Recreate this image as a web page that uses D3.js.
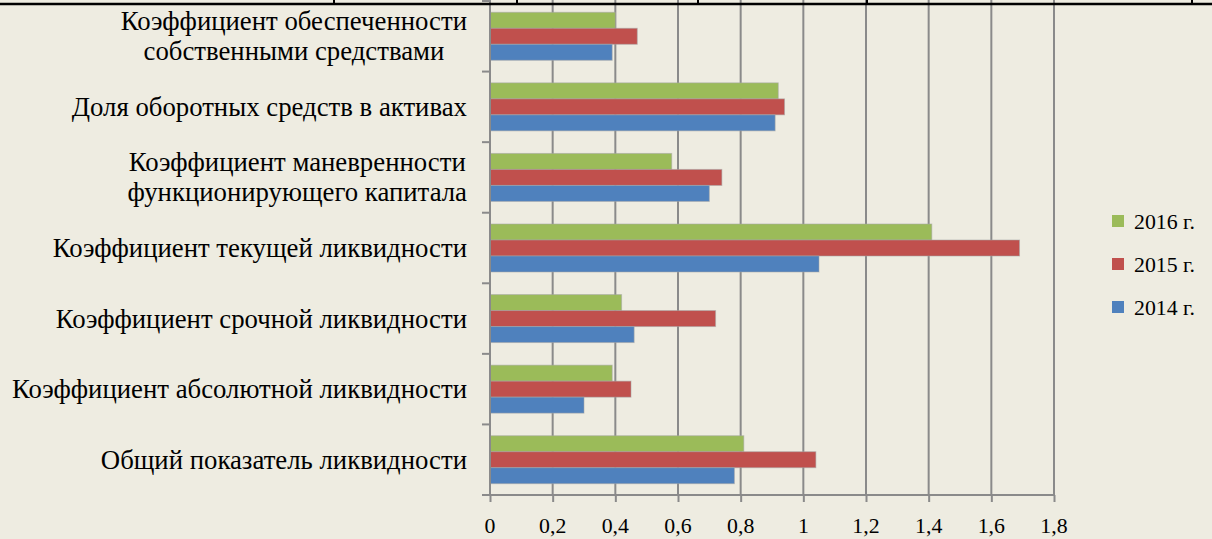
<!DOCTYPE html>
<html>
<head>
<meta charset="utf-8">
<script src="https://cdn.jsdelivr.net/npm/d3@7"></script>
<style>
  html, body { margin: 0; padding: 0; background: #eeece1; }
  svg { display: block; }
</style>
</head>
<body>
<svg id="chart" width="1212" height="539"></svg>
<script>
// Categories, listed top to bottom as they appear on the chart
const categories = [
  ["Коэффициент обеспеченности", "собственными средствами"],
  ["Доля оборотных средств в активах"],
  ["Коэффициент маневренности", "функционирующего капитала"],
  ["Коэффициент текущей ликвидности"],
  ["Коэффициент срочной ликвидности"],
  ["Коэффициент абсолютной ликвидности"],
  ["Общий показатель ликвидности"]
];

// Series, in the order they sit within each group (top to bottom)
const seriesNames = ["2016 г.", "2015 г.", "2014 г."];
const values2016 = [0.40, 0.92, 0.58, 1.41, 0.42, 0.39, 0.81];
const values2015 = [0.47, 0.94, 0.74, 1.69, 0.72, 0.45, 1.04];
const values2014 = [0.39, 0.91, 0.70, 1.05, 0.46, 0.30, 0.78];
const seriesColors = ["#9bbb59", "#c0504d", "#4f81bd"];

const xTicks = [0, 0.2, 0.4, 0.6, 0.8, 1, 1.2, 1.4, 1.6, 1.8];
const xTickLabels = ["0", "0,2", "0,4", "0,6", "0,8", "1", "1,2", "1,4", "1,6", "1,8"];

const seriesValues = [values2016, values2015, values2014];
const catKeys = categories.map(c => c.join(" "));

const svg = d3.select("#chart");
const W = 1212;
const SERIF = '"Liberation Serif"';

const plot = { left: 490, right: 1054, top: 1, bottom: 495 };
const gridColor = "#8a8a8a";
const labelRight = 467;
const labelMaxWidth = 455;   // room for the longest category name

const x = d3.scaleLinear().domain([0, 1.8]).range([plot.left, plot.right]);
const y = d3.scaleBand().domain(catKeys).range([plot.top, plot.bottom])
  .paddingInner(0.32).paddingOuter(0.16);
const ySub = d3.scaleBand().domain(seriesNames).range([0, y.bandwidth()]);

// Plain serif text element placed directly on the svg
function addText(str, size) {
  return svg.append("text")
    .style("font-family", SERIF)
    .attr("font-size", size)
    .attr("fill", "#000")
    .text(str);
}

// Horizontal set width of the face: the longest label fills its room
const probe = addText(categories[5][0], 27);
const STRETCH = labelMaxWidth / probe.node().getComputedTextLength();
probe.remove();

function widen(t) {
  const w = t.node().getComputedTextLength();
  t.attr("textLength", w * STRETCH).attr("lengthAdjust", "spacingAndGlyphs");
  return w * STRETCH;
}

// Gridlines
svg.append("g").selectAll("line")
  .data(xTicks.filter(t => t > 0))
  .join("line")
  .attr("x1", d => x(d)).attr("x2", d => x(d))
  .attr("y1", 0).attr("y2", plot.bottom)
  .attr("stroke", gridColor).attr("stroke-width", 2);

// Bars
const groups = svg.append("g").selectAll("g")
  .data(catKeys)
  .join("g")
  .attr("transform", d => `translate(0,${y(d)})`);

groups.selectAll("rect")
  .data((d, i) => seriesNames.map((s, j) => ({ s, j, v: seriesValues[j][i] })))
  .join("rect")
  .attr("x", x(0))
  .attr("y", d => ySub(d.s))
  .attr("width", d => x(d.v) - x(0))
  .attr("height", ySub.bandwidth())
  .attr("fill", d => seriesColors[d.j])
  .attr("stroke", "#a6a6a6")
  .attr("stroke-opacity", 0.55)
  .attr("stroke-width", 1);

// Value axis (bottom): tick marks from d3.axisBottom, labels set in serif
const xAxis = d3.axisBottom(x)
  .tickValues(xTicks)
  .tickFormat("")
  .tickSize(7)
  .tickSizeOuter(0);
const gx = svg.append("g").attr("transform", `translate(0,${plot.bottom})`).call(xAxis);
gx.select(".domain").remove();
gx.selectAll(".tick text").remove();
gx.selectAll(".tick line").attr("stroke", gridColor).attr("stroke-width", 2);
gx.append("line")
  .attr("x1", plot.left - 8).attr("x2", plot.right)
  .attr("y1", 0).attr("y2", 0)
  .attr("stroke", gridColor).attr("stroke-width", 2);

xTicks.forEach((t, i) => {
  const lbl = addText(xTickLabels[i], 22).attr("y", 533);
  const w = widen(lbl);
  lbl.attr("x", x(t) - w / 2);
});

// Category axis (left)
const boundaries = catKeys.map(k => y(k) - y.step() * y.paddingInner() / 2).concat([plot.bottom]);
svg.append("g").selectAll("line")
  .data(boundaries)
  .join("line")
  .attr("x1", plot.left - 8).attr("x2", plot.left)
  .attr("y1", d => d).attr("y2", d => d)
  .attr("stroke", gridColor).attr("stroke-width", 2);
svg.append("line")
  .attr("x1", plot.left).attr("x2", plot.left)
  .attr("y1", 0).attr("y2", plot.bottom)
  .attr("stroke", gridColor).attr("stroke-width", 2);

// Category labels: multi-line labels are centred within a right-aligned block
const lineH = 30;
categories.forEach((lines, i) => {
  const cy = y(catKeys[i]) + y.bandwidth() / 2;
  const items = lines.map((ln, k) => {
    const t = addText(ln, 27).attr("y", cy + (k - (lines.length - 1) / 2) * lineH + 9);
    return { t, w: widen(t) };
  });
  const maxW = d3.max(items, d => d.w);
  const cx = labelRight - maxW / 2;
  items.forEach(d => d.t.attr("x", cx - d.w / 2));
});

// Legend
seriesNames.forEach((s, i) => {
  const ly = 221 + i * 43;
  svg.append("rect").attr("x", 1112).attr("y", ly - 6).attr("width", 12).attr("height", 12)
    .attr("fill", seriesColors[i]);
  const t = addText(s, 22).attr("x", 1134).attr("y", ly + 7.5);
  widen(t);
});

// Table border running across the top edge
svg.append("line")
  .attr("x1", 0).attr("x2", W).attr("y1", 4).attr("y2", 4)
  .attr("stroke", "#000").attr("stroke-width", 2.5);
svg.append("g").selectAll("line")
  .data([334, 517, 698, 867, 1192])
  .join("line")
  .attr("x1", d => d).attr("x2", d => d)
  .attr("y1", 0).attr("y2", 4)
  .attr("stroke", "#000").attr("stroke-width", 2);
</script>
</body>
</html>
